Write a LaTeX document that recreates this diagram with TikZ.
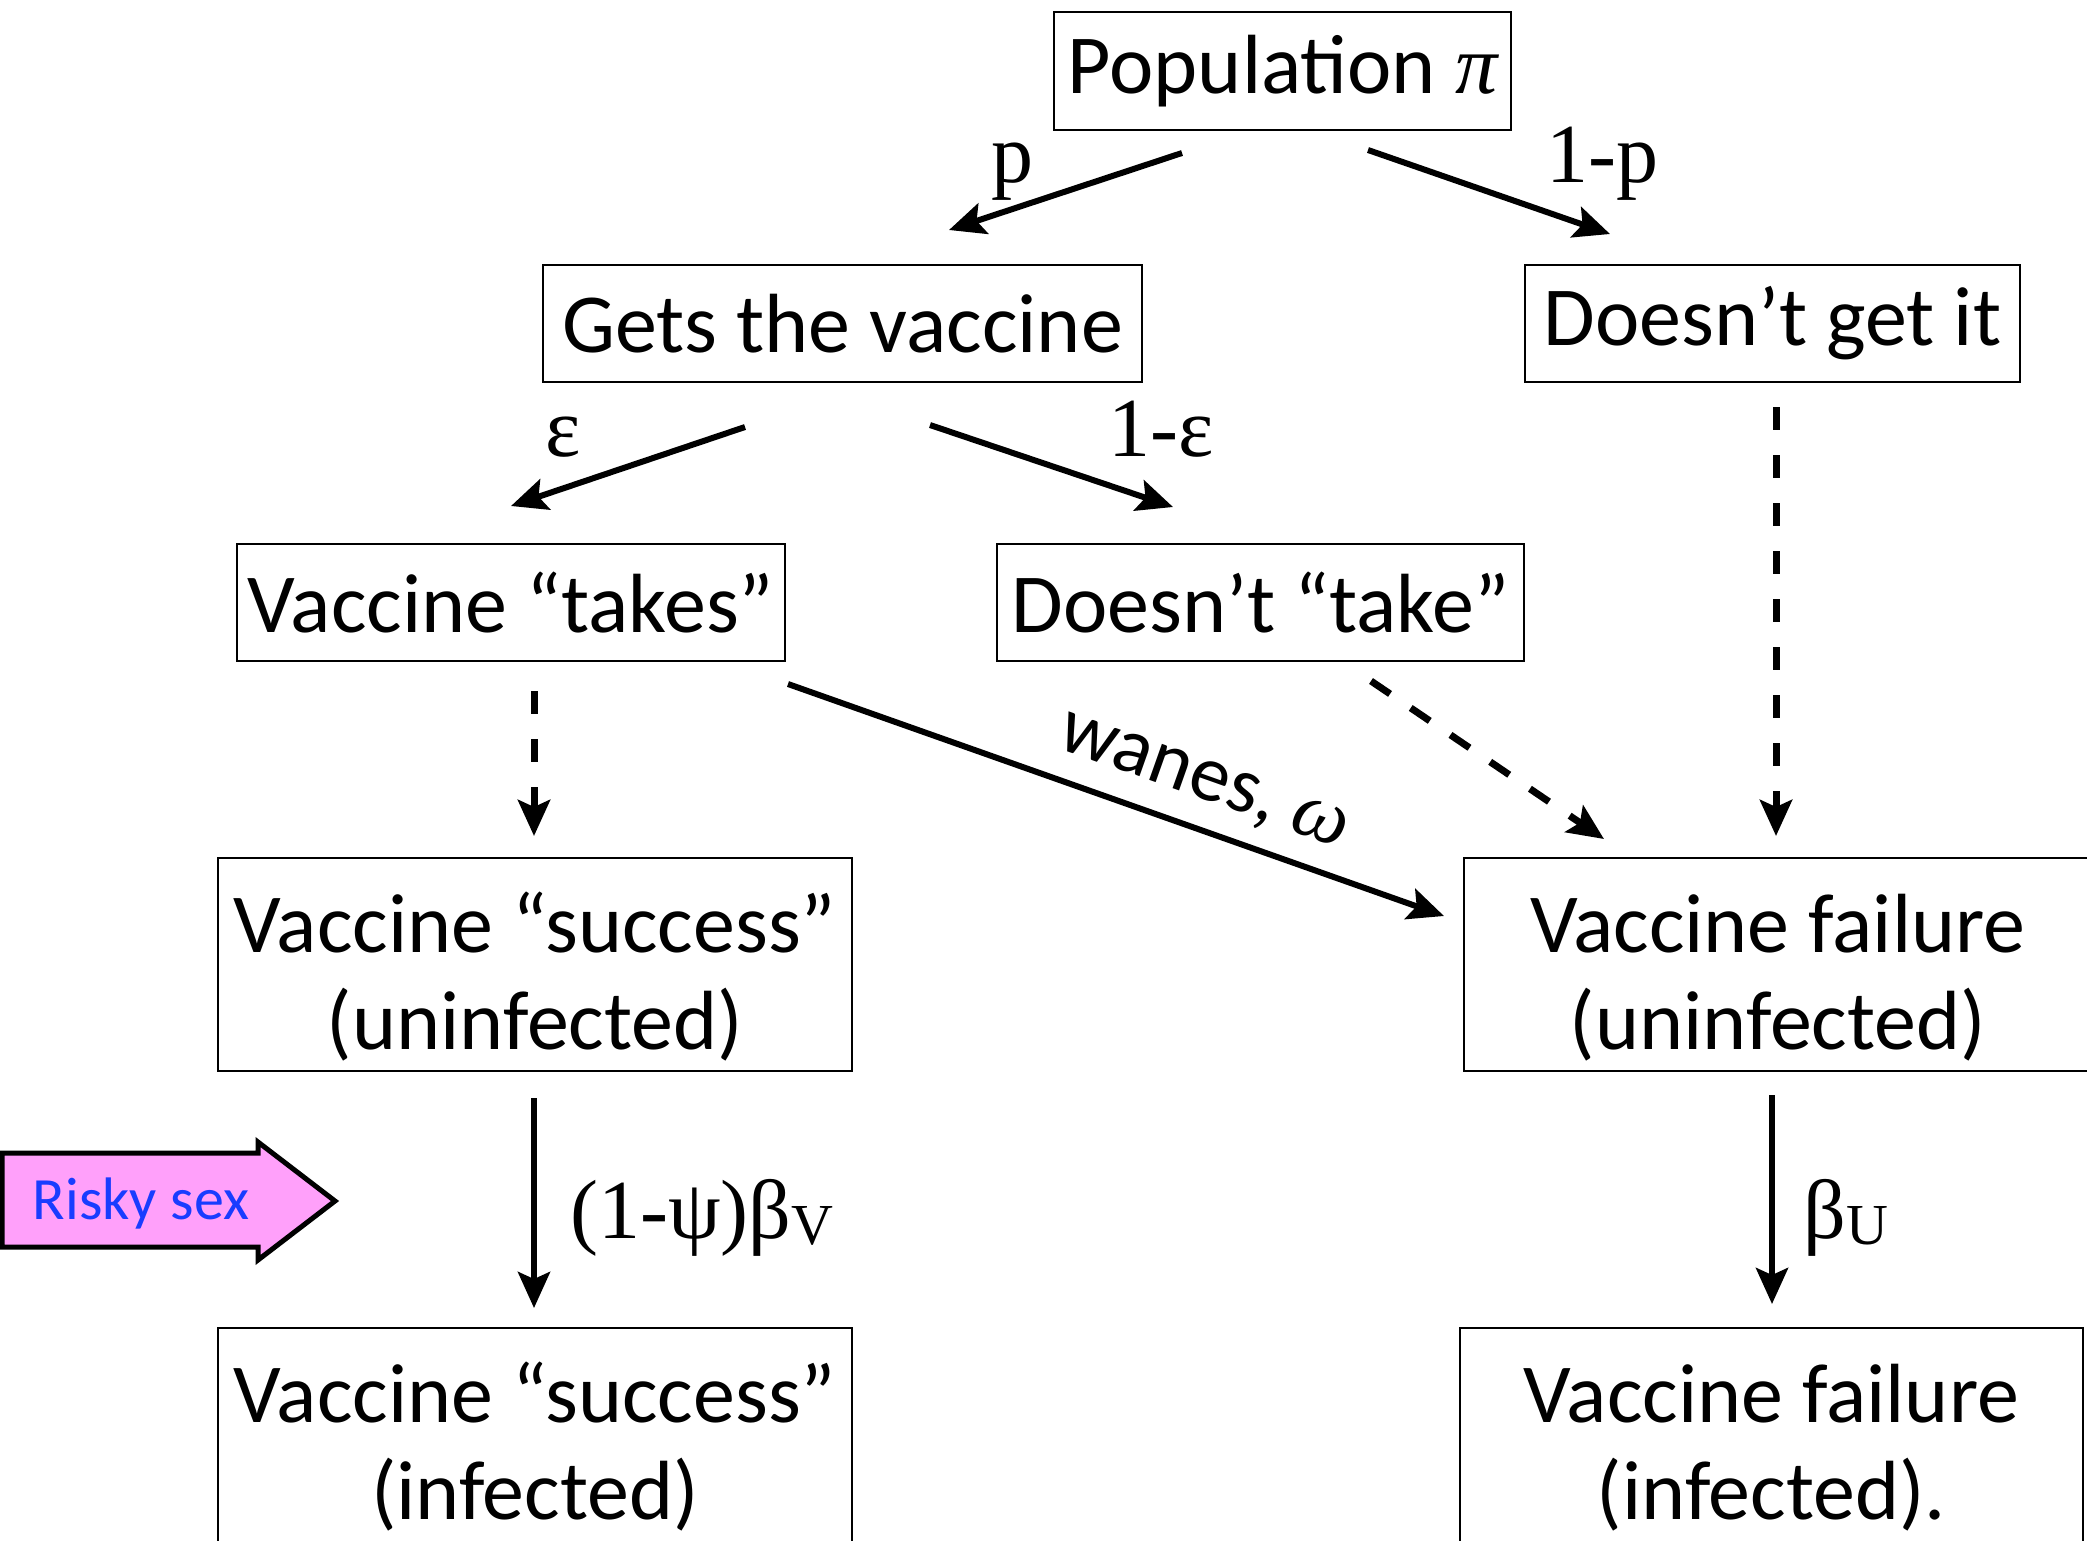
\documentclass[tikz,border=0pt]{standalone}
\usepackage{fontspec}
\setmainfont{Carlito}
\newfontfamily\lbl{Liberation Serif}
\usetikzlibrary{arrows.meta}
\definecolor{riskpink}{RGB}{255,160,250}
\definecolor{riskblue}{RGB}{25,60,255}
\newcommand{\tstrut}{\rule{0pt}{84pt}}
\begin{document}
\begin{tikzpicture}[x=1pt,y=-1pt,
  box/.style={draw, line width=2.5pt, inner sep=0pt, font=\fontsize{84}{97}\selectfont, align=center},
  arr/.style={line width=6pt, -{Stealth[length=36pt,width=32pt,inset=7pt]}},
  dsh/.style={arr, line width=7pt, dash pattern=on 23pt off 25pt},
  lab/.style={font=\fontsize{84}{97}\selectfont\lbl, inner sep=0pt, anchor=base}]
\useasboundingbox (0,0) rectangle (2087,1540);
\clip (0,0) rectangle (2087,1540);
% boxes
\node[box, minimum width=457pt, minimum height=118pt] (pop) at (1282.5,71) {Population {\lbl\itshape π}};
\node[box, minimum width=599pt, minimum height=117pt] (gets) at (842.5,323.5) {Gets the vaccine};
\node[box, minimum width=495pt, minimum height=117pt] (dont) at (1772.5,323.5) {Doesn’t get it};
\node[box, minimum width=548pt, minimum height=117pt] (takes) at (511,602.5) {Vaccine “takes”};
\node[box, minimum width=527pt, minimum height=117pt] (notake) at (1260.5,602.5) {Doesn’t “take”};
\node[box, minimum width=634pt, minimum height=213pt] (succU) at (535,964.5) {\tstrut Vaccine “success”\\(uninfected)};
\node[box, minimum width=628pt, minimum height=213pt] (failU) at (1778,964.5) {\tstrut Vaccine failure\\(uninfected)};
\node[box, minimum width=634pt, minimum height=214pt] (succI) at (535,1435) {\tstrut Vaccine “success”\\(infected)};
\node[box, minimum width=623pt, minimum height=214pt] (failI) at (1771.5,1435) {\tstrut Vaccine failure\\(infected).};
% arrow end points
\coordinate (p1) at (1182,153); \coordinate (p2) at (949,230);
\coordinate (q1) at (1368,150); \coordinate (q2) at (1610,234);
\coordinate (e1) at (745,427);  \coordinate (e2) at (511,506);
\coordinate (f1) at (930,425);  \coordinate (f2) at (1173,507);
\coordinate (d1) at (534,691);  \coordinate (d2) at (534,836);
\coordinate (w1) at (788,684);  \coordinate (w2) at (1444,916);
\coordinate (t1) at (1371,681); \coordinate (t2) at (1604,839);
\coordinate (g1) at (1776,407); \coordinate (g2) at (1776,836);
\coordinate (s1) at (534,1098); \coordinate (s2) at (534,1308);
\coordinate (u1) at (1772,1095);\coordinate (u2) at (1772,1304);
% connectors
\draw[arr] (p1) -- (p2);
\draw[arr] (q1) -- (q2);
\draw[arr] (e1) -- (e2);
\draw[arr] (f1) -- (f2);
\draw[dsh] (d1) -- (d2);
\draw[arr] (w1) -- (w2);
\draw[dsh] (t1) -- (t2);
\draw[dsh] (g1) -- (g2);
\draw[arr] (s1) -- (s2);
\draw[arr] (u1) -- (u2);
% labels
\node[lab] (lp) at (1012,182) {p};
\node[lab] (l1p) at (1602,182) {1-p};
\node[lab] (le) at (563,456) {ε};
\node[lab] (l1e) at (1161,456) {1-ε};
\node[lab] (lpsi) at (702,1238) {(1-ψ)β\raisebox{-6pt}{\fontsize{58}{60}\selectfont V}};
\node[lab] (lbu) at (1846,1238) {β\raisebox{-6pt}{\fontsize{58}{60}\selectfont U}};
\node[font=\fontsize{80}{90}\selectfont, inner sep=0pt, rotate=-19.5] (lw) at (1203,784) {wanes, {\lbl\itshape ω}};
% risky sex arrow
\draw[line width=5pt, fill=riskpink, line join=miter] (2,1153) -- (258,1153) -- (258,1142) -- (335,1201) -- (258,1260) -- (258,1247) -- (2,1247) -- cycle;
\node[font=\fontsize{60}{70}\selectfont, text=riskblue, inner sep=0pt] (risk) at (141,1203) {Risky sex};
\end{tikzpicture}
\end{document}
